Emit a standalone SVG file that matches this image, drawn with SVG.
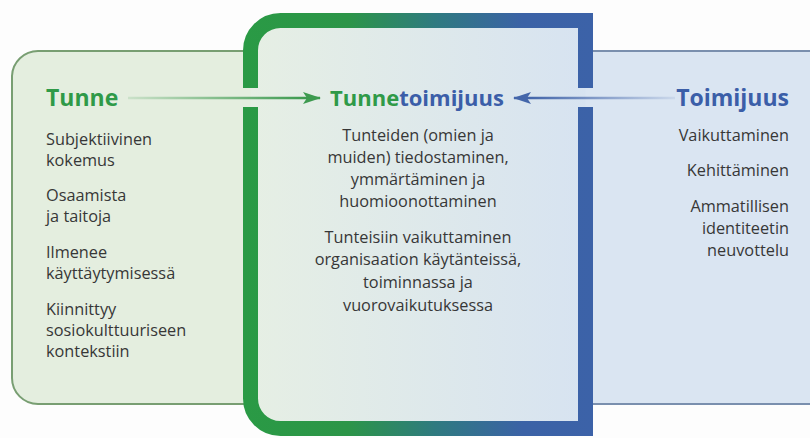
<svg xmlns="http://www.w3.org/2000/svg" width="810" height="438" viewBox="0 0 810 438">
<defs>
<linearGradient id="borderGrad" gradientUnits="userSpaceOnUse" x1="243" y1="0" x2="593" y2="0">
<stop offset="0" stop-color="#2a9a45"/><stop offset="0.3" stop-color="#2c9548"/><stop offset="0.55" stop-color="#2f7a80"/><stop offset="0.8" stop-color="#3b62a6"/><stop offset="1" stop-color="#3c62a8"/>
</linearGradient>
<linearGradient id="centerFill" gradientUnits="userSpaceOnUse" x1="250" y1="0" x2="586" y2="0">
<stop offset="0" stop-color="#e6efe4"/><stop offset="1" stop-color="#d7e3f1"/>
</linearGradient>
<linearGradient id="greenLine" gradientUnits="userSpaceOnUse" x1="128" y1="0" x2="305" y2="0">
<stop offset="0" stop-color="#3d9a4f" stop-opacity="0.15"/><stop offset="1" stop-color="#3d9a4f"/>
</linearGradient>
<linearGradient id="blueLine" gradientUnits="userSpaceOnUse" x1="675" y1="0" x2="530" y2="0">
<stop offset="0" stop-color="#4466aa" stop-opacity="0.1"/><stop offset="1" stop-color="#4466aa"/>
</linearGradient>
<marker id="arrGreen" viewBox="0 0 18 12" refX="17" refY="6" markerWidth="18" markerHeight="12" markerUnits="userSpaceOnUse" orient="auto">
<path d="M0,0 L18,6 L0,12 L4,6 Z" fill="#3d9a4f"/>
</marker>
<marker id="arrBlue" viewBox="0 0 18 12" refX="17" refY="6" markerWidth="18" markerHeight="12" markerUnits="userSpaceOnUse" orient="auto">
<path d="M0,0 L18,6 L0,12 L4,6 Z" fill="#4466aa"/>
</marker>
</defs>
<style>
text { font-family: "Open Sans", "Liberation Sans", sans-serif; }
.body { font-size: 16.3px; fill: #373737; }
.title { font-size: 23px; font-weight: bold; }
.ctitle { font-size: 22px; font-weight: bold; }
.green { fill: #2f9a48; }
.blue { fill: #3b5ea8; }
</style>
<rect x="0" y="0" width="810" height="438" fill="#fdfdfd"/>
<g id="node-tunne">
<path d="M12,76 A26,26 0 0 1 38,51 L300,51 L300,404 L38,404 A26,26 0 0 1 12,378 Z" fill="#e4eedf" stroke="#789e72" stroke-width="2"/>
<text class="title green" x="46" y="106">Tunne</text>
<text class="body" x="46" y="145">Subjektiivinen</text>
<text class="body" x="46" y="166">kokemus</text>
<text class="body" x="46" y="201">Osaamista</text>
<text class="body" x="46" y="222">ja taitoja</text>
<text class="body" x="46" y="258">Ilmenee</text>
<text class="body" x="46" y="279">käyttäytymisessä</text>
<text class="body" x="46" y="315">Kiinnittyy</text>
<text class="body" x="46" y="336">sosiokulttuuriseen</text>
<text class="body" x="46" y="357">kontekstiin</text>
</g>
<g id="node-toimijuus">
<rect x="560" y="51" width="270" height="353" fill="#dae5f2" stroke="#7a8fae" stroke-width="2"/>
<text class="title blue" x="789" y="106" text-anchor="end">Toimijuus</text>
<text class="body" x="789" y="141" text-anchor="end">Vaikuttaminen</text>
<text class="body" x="789" y="176" text-anchor="end">Kehittäminen</text>
<text class="body" x="789" y="212" text-anchor="end">Ammatillisen</text>
<text class="body" x="789" y="234" text-anchor="end">identiteetin</text>
<text class="body" x="789" y="256" text-anchor="end">neuvottelu</text>
</g>
<g id="node-tunnetoimijuus">
<path d="M250.5,50 A30,30 0 0 1 280.5,20.5 L585.5,20.5 L585.5,428.5 L280.5,428.5 A30,30 0 0 1 250.5,398.5 Z" fill="url(#centerFill)"/>
<path d="M250.5,107 L250.5,398.5 A30,30 0 0 0 280.5,428.5 L585.5,428.5 L585.5,107 M585.5,88 L585.5,20.5 L280.5,20.5 A30,30 0 0 0 250.5,50.5 L250.5,88" fill="none" stroke="url(#borderGrad)" stroke-width="15"/>
<text class="ctitle" x="417" y="106" text-anchor="middle"><tspan class="green">Tunne</tspan><tspan class="blue">toimijuus</tspan></text>
<g text-anchor="middle">
<text class="body" x="418" y="141">Tunteiden (omien ja</text>
<text class="body" x="418" y="163">muiden) tiedostaminen,</text>
<text class="body" x="418" y="185">ymmärtäminen ja</text>
<text class="body" x="418" y="207">huomioonottaminen</text>
<text class="body" x="418" y="243">Tunteisiin vaikuttaminen</text>
<text class="body" x="418" y="265">organisaation käytänteissä,</text>
<text class="body" x="418" y="288">toiminnassa ja</text>
<text class="body" x="418" y="311">vuorovaikutuksessa</text>
</g>
</g>
<g id="connectors">
<line x1="128" y1="98" x2="320" y2="98" stroke="url(#greenLine)" stroke-width="2.5" marker-end="url(#arrGreen)"/>
<line x1="675" y1="98" x2="514" y2="98" stroke="url(#blueLine)" stroke-width="2.5" marker-end="url(#arrBlue)"/>
</g>
</svg>
